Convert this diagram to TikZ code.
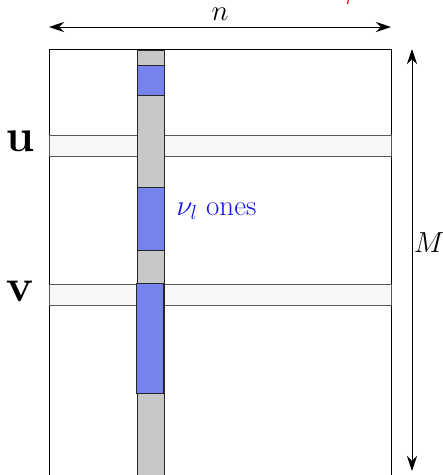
\RequirePackage{fix-cm}
\documentclass[tikz,border=0pt]{standalone}
\usetikzlibrary{arrows.meta}
\definecolor{colgray}{RGB}{200,200,200}
\definecolor{rowgray}{RGB}{247,247,247}
\definecolor{blockblue}{RGB}{118,130,238}
\definecolor{labelblue}{RGB}{20,20,240}
\tikzset{
  cell/.style={draw=black!85, line width=1pt},
  dimarrow/.style={{Stealth[length=15pt,width=10pt,inset=5pt]}-{Stealth[length=15pt,width=10pt,inset=5pt]}, line width=0.9pt},
  biglabel/.style={font=\fontsize{46}{48}\selectfont},
  midlabel/.style={font=\fontsize{29}{31}\selectfont},
}
\begin{document}
\begin{tikzpicture}[x=1pt,y=-1pt]
\useasboundingbox (0,0) rectangle (443,475);
\clip (0,0) rectangle (443,475);
% matrix frame
\coordinate (tl) at (49,49);
\coordinate (tr) at (391,49);
\draw[line width=1pt] (49,490) -- (tl) -- (tr) -- (391,490);
% rows
\draw[draw=black!65, fill=rowgray, line width=1pt] (49,135) rectangle (391,156);
\draw[draw=black!65, fill=rowgray, line width=1pt] (49,284) rectangle (391,305);
% column
\draw[cell, fill=colgray] (137,50) rectangle (164,490);
\draw[cell, fill=blockblue] (137,65) rectangle (164,95);
\draw[cell, fill=blockblue] (137,187) rectangle (164,250);
\draw[cell, fill=blockblue] (136,283) rectangle (163,393);
% labels
\node[biglabel] (u) at (20,141) {$\mathbf{u}$};
\node[biglabel] (v) at (20,291) {$\mathbf{v}$};
\node[midlabel, text=labelblue, anchor=west] (ones) at (173,211) {$\nu_l$ ones};
% dimension arrows
\coordinate (nl) at (49,27);
\coordinate (nr) at (391,27);
\draw[dimarrow] (nl) -- (nr);
\node[midlabel, inner sep=0pt] (n) at (220,14.5) {$n$};
\coordinate (mt) at (412,49);
\coordinate (mb) at (412,471);
\draw[dimarrow] (mt) -- (mb);
\node[midlabel, inner sep=1pt] (M) at (429,243) {$M$};
% clipped red mark
\coordinate (r1) at (348.5,-1);
\coordinate (r2) at (347.5,4);
\draw[red, line width=1.2pt] (r1) -- (r2);
\end{tikzpicture}
\end{document}
